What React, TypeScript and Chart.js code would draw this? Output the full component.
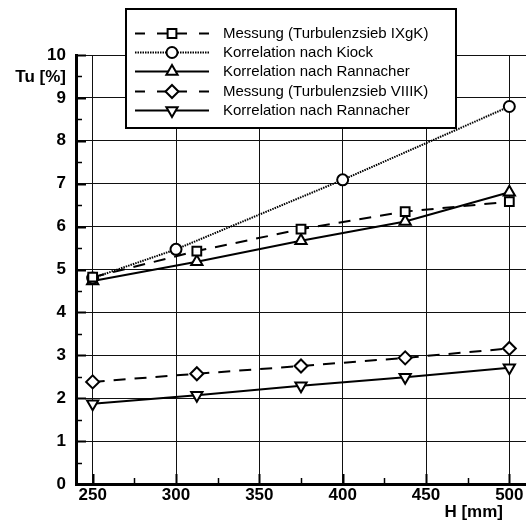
import React, { useEffect, useRef } from "react";
import { Chart, registerables } from "chart.js";

Chart.register(...registerables);

const H_MESSUNG = [250, 312.5, 375, 437.5, 500];
const H_KIOCK = [250, 300, 400, 500];
const TU_IXGK = [4.82, 5.43, 5.94, 6.35, 6.58];
const TU_KIOCK = [4.8, 5.47, 7.09, 8.8];
const TU_RANN_1 = [4.73, 5.18, 5.67, 6.12, 6.8];
const TU_VIIIK = [2.38, 2.57, 2.75, 2.94, 3.16];
const TU_RANN_2 = [1.87, 2.07, 2.29, 2.49, 2.71];
const X_TICKS = [250, 300, 350, 400, 450, 500];
const LABELS = [
  "Messung (Turbulenzsieb IXgK)",
  "Korrelation nach Kiock",
  "Korrelation nach Rannacher",
  "Messung (Turbulenzsieb VIIIK)",
  "Korrelation nach Rannacher",
];

const FONT = '"Liberation Sans", Arial, Helvetica, sans-serif';

function pts(xs: number[], ys: number[]) {
  return xs.map((x, i) => ({ x, y: ys[i] }));
}

function drawMarker(ctx: CanvasRenderingContext2D, style: string, rotation: number, x: number, y: number, r: number) {
  ctx.beginPath();
  if (style === "rect") {
    const s = r * Math.SQRT1_2;
    ctx.rect(x - s, y - s, 2 * s, 2 * s);
  } else if (style === "circle") {
    ctx.arc(x, y, r, 0, Math.PI * 2);
  } else if (style === "rectRot") {
    ctx.moveTo(x, y - r);
    ctx.lineTo(x + r, y);
    ctx.lineTo(x, y + r);
    ctx.lineTo(x - r, y);
    ctx.closePath();
  } else if (style === "triangle") {
    let a = ((rotation || 0) * Math.PI) / 180;
    ctx.moveTo(x + Math.sin(a) * r, y - Math.cos(a) * r);
    a += (2 * Math.PI) / 3;
    ctx.lineTo(x + Math.sin(a) * r, y - Math.cos(a) * r);
    a += (2 * Math.PI) / 3;
    ctx.lineTo(x + Math.sin(a) * r, y - Math.cos(a) * r);
    ctx.closePath();
  }
  ctx.fillStyle = "#fff";
  ctx.fill();
  ctx.lineWidth = 2;
  ctx.strokeStyle = "#000";
  ctx.setLineDash([]);
  ctx.stroke();
}

const innerTicks = {
  id: "innerTicks",
  afterDatasetsDraw(chart: any) {
    const ctx = chart.ctx as CanvasRenderingContext2D;
    const xs = chart.scales.x;
    const ys = chart.scales.y;
    const a = chart.chartArea;
    ctx.save();
    ctx.strokeStyle = "#000";
    for (let v = 0; v <= 10; v += 0.5) {
      const py = Math.round(ys.getPixelForValue(v)) + 0.5;
      const major = Number.isInteger(v);
      ctx.lineWidth = major ? 2 : 1.5;
      ctx.beginPath();
      ctx.moveTo(a.left, py);
      ctx.lineTo(a.left + (major ? 10 : 6), py);
      ctx.stroke();
    }
    for (let v = 250; v <= 500; v += 25) {
      const px = Math.round(xs.getPixelForValue(v)) + 0.5;
      const major = v % 50 === 0;
      ctx.lineWidth = major ? 2 : 1.5;
      ctx.beginPath();
      ctx.moveTo(px, a.bottom);
      ctx.lineTo(px, a.bottom - (major ? 10 : 6));
      ctx.stroke();
    }
    ctx.restore();
  },
};

const boxLegend = {
  id: "boxLegend",
  afterDraw(chart: any) {
    const ctx = chart.ctx as CanvasRenderingContext2D;
    ctx.save();
    const L = 126, T = 9, R = 456, B = 128;
    ctx.fillStyle = "#fff";
    ctx.fillRect(L, T, R - L, B - T);
    ctx.lineWidth = 2;
    ctx.strokeStyle = "#000";
    ctx.setLineDash([]);
    ctx.strokeRect(L, T, R - L, B - T);
    chart.data.datasets.forEach((ds: any, i: number) => {
      const y = Math.round(33 + i * 19.2) + 0.5;
      const x0 = 135, x1 = 209, xm = 172;
      ctx.strokeStyle = "#000";
      ctx.lineWidth = ds.borderWidth;
      const dash = ds.borderDash && ds.borderDash.length ? ds.borderDash : [];
      ctx.setLineDash(dash.length && dash[0] > 3 ? [10, 12] : dash);
      ctx.beginPath();
      ctx.moveTo(x0, y);
      ctx.lineTo(xm, y);
      ctx.stroke();
      ctx.beginPath();
      ctx.moveTo(x1, y);
      ctx.lineTo(xm, y);
      ctx.stroke();
      drawMarker(ctx, ds.pointStyle, ds.pointRotation || 0, xm, y, ds.pointRadius);
      ctx.fillStyle = "#000";
      ctx.font = `15px ${FONT}`;
      ctx.textBaseline = "middle";
      ctx.textAlign = "left";
      ctx.fillText(ds.label, 223, y);
    });
    ctx.font = `bold 17px ${FONT}`;
    ctx.fillStyle = "#000";
    ctx.textAlign = "right";
    ctx.textBaseline = "middle";
    ctx.fillText("Tu [%]", 66, 77);
    ctx.fillText("H [mm]", 503, 512);
    ctx.restore();
  },
};

export default function App() {
  const ref = useRef<HTMLCanvasElement | null>(null);
  useEffect(() => {
    if (!ref.current) return;
    const common = {
      borderColor: "#000",
      pointBackgroundColor: "#fff",
      pointBorderColor: "#000",
      pointBorderWidth: 2,
      fill: false,
      tension: 0,
    };
    const chart = new Chart(ref.current, {
      type: "scatter",
      data: {
        datasets: [
          { ...common, label: LABELS[0], data: pts(H_MESSUNG, TU_IXGK), showLine: true, borderWidth: 2, borderDash: [12, 9], pointStyle: "rect", pointRadius: 6.2 },
          { ...common, label: LABELS[1], data: pts(H_KIOCK, TU_KIOCK), showLine: true, borderWidth: 2, borderDash: [1.5, 1], pointStyle: "circle", pointRadius: 5.5 },
          { ...common, label: LABELS[2], data: pts(H_MESSUNG, TU_RANN_1), showLine: true, borderWidth: 2, borderDash: [], pointStyle: "triangle", pointRadius: 6.5 },
          { ...common, label: LABELS[3], data: pts(H_MESSUNG, TU_VIIIK), showLine: true, borderWidth: 2, borderDash: [12, 9], pointStyle: "rectRot", pointRadius: 6.5 },
          { ...common, label: LABELS[4], data: pts(H_MESSUNG, TU_RANN_2), showLine: true, borderWidth: 2, borderDash: [], pointStyle: "triangle", pointRotation: 180, pointRadius: 6.5 },
        ] as any,
      },
      options: {
        responsive: false,
        animation: false,
        layout: { autoPadding: false, padding: { top: 55, right: 0, left: 0, bottom: 0 } },
        plugins: { legend: { display: false }, tooltip: { enabled: false }, title: { display: false } },
        scales: {
          x: {
            type: "linear",
            min: 240,
            max: 510,
            afterBuildTicks: (s: any) => {
              s.ticks = X_TICKS.map((v) => ({ value: v }));
            },
            afterFit: (s: any) => {
              s.height = 39;
              s.paddingLeft = 0;
              s.paddingRight = 0;
            },
            grid: { color: "#111", lineWidth: 1, drawTicks: false },
            border: { display: true, color: "#000", width: 3 },
            ticks: { color: "#000", font: { family: FONT, size: 17, weight: "bold" }, padding: 1, maxRotation: 0 },
          },
          y: {
            type: "linear",
            min: 0,
            max: 10,
            afterFit: (s: any) => {
              s.width = 76;
              s.paddingTop = 0;
              s.paddingBottom = 0;
            },
            grid: { color: "#111", lineWidth: 1, drawTicks: false },
            border: { display: true, color: "#000", width: 3 },
            ticks: { stepSize: 1, color: "#000", font: { family: FONT, size: 17, weight: "bold" }, padding: 10 },
          },
        },
      },
      plugins: [innerTicks, boxLegend],
    } as any);
    return () => chart.destroy();
  }, []);
  return (
    <div style={{ position: "fixed", left: 0, top: 0, width: 526, height: 523, background: "#fff" }}>
      <canvas ref={ref} width={526} height={523} style={{ display: "block" }} />
    </div>
  );
}
